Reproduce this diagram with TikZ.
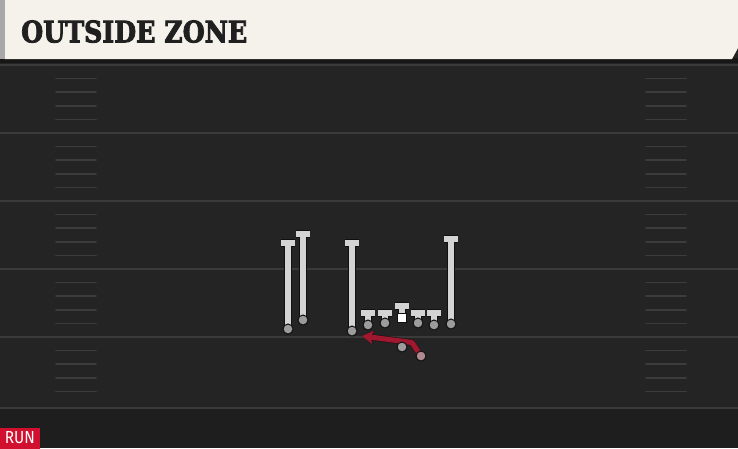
\documentclass[tikz,border=0pt]{standalone}
\usepackage{fontspec}
\usetikzlibrary{arrows.meta}
\newfontfamily\titlefont[FakeBold=3]{DejaVu Serif Bold}
\newfontfamily\runfont{Fira Sans}
\definecolor{field}{HTML}{242424}
\definecolor{fieldlow}{HTML}{1E1E1E}
\definecolor{yard}{HTML}{3A3A3A}
\definecolor{hashc}{HTML}{3C3C3C}
\definecolor{cream}{HTML}{F5F2EB}
\definecolor{strip}{HTML}{A8A8A8}
\definecolor{headshadow}{HTML}{171717}
\definecolor{titlec}{HTML}{202020}
\definecolor{routegrey}{HTML}{D4D4D4}
\definecolor{outlinec}{HTML}{101010}
\definecolor{dotgrey}{HTML}{9C9C9C}
\definecolor{redroute}{HTML}{A0182F}
\definecolor{rbdot}{HTML}{B08990}
\definecolor{runred}{HTML}{D0102E}
\tikzset{
  yardline/.style={draw=yard, line width=1.6pt},
  hashline/.style={draw=hashc, line width=1.6pt, line cap=round},
  route/.style={draw=routegrey, line width=6pt, preaction={draw=outlinec, line width=8pt}},
  redpath/.style={draw=redroute, line width=5pt, line join=round,
    -{Stealth[length=11pt,width=13pt,inset=2.5pt]},
    preaction={draw=outlinec!80!redroute, line width=6.5pt, -{Stealth[length=12pt,width=14.5pt,inset=2.5pt]}}},
  dot/.style={circle, fill=dotgrey, draw=outlinec, line width=1pt, minimum size=10pt, inner sep=0pt},
  centersq/.style={rectangle, fill=white, draw=outlinec, line width=1pt, minimum size=9pt, inner sep=0pt},
  runbox/.style={fill=runred, text=white, minimum width=40pt, minimum height=21pt, inner sep=0pt},
}
\begin{document}
\begin{tikzpicture}[x=1pt,y=-1pt]
\useasboundingbox (0,0) rectangle (738,448);
% field
\fill[field] (0,0) rectangle (738,448);
\fill[fieldlow] (0,409) rectangle (738,448);
\fill[headshadow] (0,58) rectangle (738,63);
% header
\fill[cream] (5,0) -- (738,0) -- (738,48) -- (732,59) -- (5,59) -- cycle;
\fill[strip] (0,0) rectangle (5,59);
\node[anchor=south west, inner sep=0pt, text=titlec] (title) at (21,43)
  {\resizebox{226pt}{22pt}{\fontsize{30}{30}\selectfont\titlefont OUTSIDE ZONE}};
% yard lines
\foreach \y in {65,133,201,269,337,408}
  \draw[yardline] (0,\y) -- (738,\y);
% hash marks
\foreach \b in {65,133,201,269,337}
  \foreach \k in {1,2,3,4} {
    \draw[hashline] (56,\b+\k*13.6) -- (96,\b+\k*13.6);
    \draw[hashline] (646,\b+\k*13.6) -- (686,\b+\k*13.6);
  }
% players with routes
\foreach \n/\x/\t/\b in {p1/288/243/329, p2/303/234/320, p3/352/243/331, p4/451/239/324,
                        l1/368/312.5/325, l2/385/312.5/323, l4/418/312.5/323, l5/434/312.5/325} {
  \coordinate (\n) at (\x,\b);
  \coordinate (\n t) at (\x,\t);
  \draw[route] ([xshift=-7pt]\n t) -- ([xshift=7pt]\n t) (\n t) -- (\n);
  \node[dot] (\n dot) at (\n) {};
}
% center
\coordinate (c) at (402,318);
\coordinate (ct) at (402,305.5);
\draw[route] ([xshift=-7pt]ct) -- ([xshift=7pt]ct) (ct) -- (c);
\node[centersq] (cdot) at (c) {};
% backfield run
\coordinate (rb) at (421,356);
\coordinate (bend) at (412,342.5);
\coordinate (tip) at (362,336);
\draw[redpath] (rb) -- (bend) -- (tip);
\node[dot] (qb) at (402,347) {};
\node[dot, fill=rbdot] (rbdot) at (rb) {};
% run tag
\node[runbox] (run) at (20,438) {\resizebox{30pt}{12pt}{\runfont RUN}};
\end{tikzpicture}
\end{document}
